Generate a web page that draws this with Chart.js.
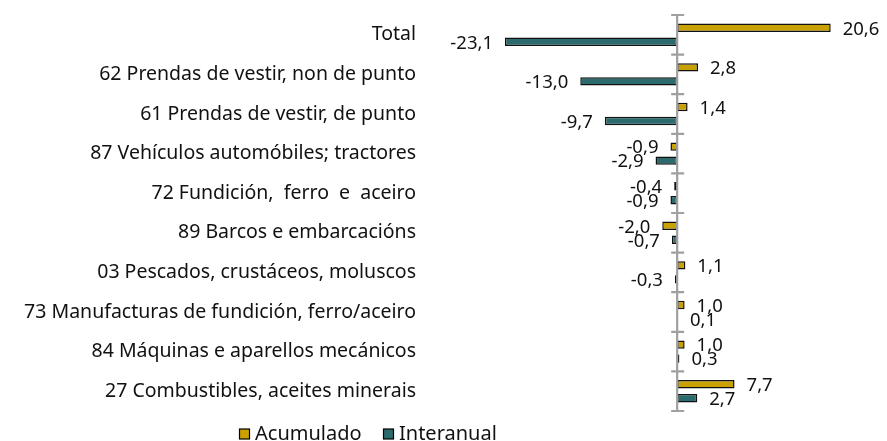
<!DOCTYPE html>
<html>
<head>
<meta charset="utf-8">
<script src="https://cdn.jsdelivr.net/npm/chart.js@4.4.0/dist/chart.umd.min.js"></script>
<style>
  html, body { margin: 0; padding: 0; background: #ffffff; }
  #wrap { position: relative; width: 887px; height: 441px; }
</style>
</head>
<body>
<div id="wrap"><canvas id="c" width="887" height="441"></canvas></div>
<script>
const categories = [
  "Total",
  "62 Prendas de vestir, non de punto",
  "61 Prendas de vestir, de punto",
  "87 Vehículos automóbiles; tractores",
  "72 Fundición,  ferro  e  aceiro",
  "89 Barcos e embarcacións",
  "03 Pescados, crustáceos, moluscos",
  "73 Manufacturas de fundición, ferro/aceiro",
  "84 Máquinas e aparellos mecánicos",
  "27 Combustibles, aceites minerais"
];
const acumulado = [20.6, 2.8, 1.4, -0.9, -0.4, -2.0, 1.1, 1.0, 1.0, 7.7];
const interanual = [-23.1, -13.0, -9.7, -2.9, -0.9, -0.7, -0.3, 0.1, 0.3, 2.7];
const seriesNames = ["Acumulado", "Interanual"];

const GOLD = "#C9A100";
const TEAL = "#2B6B6E";
const FONT = "'Noto Sans', 'Open Sans', sans-serif";

function fmt(v) {
  return v.toFixed(1).replace(".", ",");
}

const valueLabels = {
  id: "valueLabels",
  afterDatasetsDraw(chart) {
    const ctx = chart.ctx;
    ctx.save();
    ctx.font = "18.5px " + FONT;
    ctx.fillStyle = "#111";
    ctx.textBaseline = "middle";
    chart.data.datasets.forEach((ds, di) => {
      const meta = chart.getDatasetMeta(di);
      meta.data.forEach((el, i) => {
        const v = ds.data[i];
        if (v >= 0) {
          ctx.textAlign = "left";
          ctx.fillText(fmt(v), el.x + 12, el.y + 1.5);
        } else {
          ctx.textAlign = "right";
          ctx.fillText(fmt(v), el.x - 12, el.y + 1.5);
        }
      });
    });
    ctx.restore();
  }
};

const zeroAxis = {
  id: "zeroAxis",
  afterDatasetsDraw(chart) {
    const ctx = chart.ctx;
    const xs = chart.scales.x;
    const ca = chart.chartArea;
    const x0 = xs.getPixelForValue(0);
    const n = chart.data.labels.length;
    const step = (ca.bottom - ca.top) / n;
    ctx.save();
    ctx.strokeStyle = "#a0a0a0";
    ctx.lineWidth = 2.2;
    ctx.beginPath();
    ctx.moveTo(x0, ca.top);
    ctx.lineTo(x0, ca.bottom);
    for (let i = 0; i <= n; i++) {
      const y = ca.top + i * step;
      ctx.moveTo(x0 - 6, y);
      ctx.lineTo(x0 + 7, y);
    }
    ctx.stroke();
    ctx.restore();
  }
};

const customLegend = {
  id: "customLegend",
  afterDraw(chart) {
    const ctx = chart.ctx;
    ctx.save();
    ctx.font = "20px " + FONT;
    ctx.textBaseline = "middle";
    ctx.textAlign = "left";
    const starts = [239, 383];
    const yc = 434;
    chart.data.datasets.forEach((ds, i) => {
      const x = starts[i];
      ctx.fillStyle = ds.backgroundColor;
      ctx.fillRect(x + 0.5, yc - 5, 10, 10);
      ctx.strokeStyle = "#000";
      ctx.lineWidth = 1.2;
      ctx.strokeRect(x + 0.5, yc - 5, 10, 10);
      ctx.fillStyle = "#111";
      ctx.fillText(ds.label, x + 16, yc);
    });
    ctx.restore();
  }
};

new Chart(document.getElementById("c"), {
  type: "bar",
  data: {
    labels: categories,
    datasets: [
      {
        label: seriesNames[0],
        data: acumulado,
        backgroundColor: GOLD,
        borderColor: "#111",
        borderWidth: 1.5,
        borderSkipped: false,
        categoryPercentage: 0.707,
        barPercentage: 0.6
      },
      {
        label: seriesNames[1],
        data: interanual,
        backgroundColor: TEAL,
        borderColor: "#111",
        borderWidth: 1.5,
        borderSkipped: false,
        categoryPercentage: 0.707,
        barPercentage: 0.6
      }
    ]
  },
  options: {
    indexAxis: "y",
    responsive: false,
    animation: false,
    layout: { padding: { top: 15, bottom: 30, right: 25, left: 0 } },
    plugins: {
      legend: { display: false },
      tooltip: { enabled: false },
      title: { display: false }
    },
    scales: {
      x: {
        display: false,
        min: -33.7,
        max: 24.8
      },
      y: {
        grid: { display: false, drawTicks: false },
        border: { display: false },
        ticks: {
          color: "#111",
          font: { family: FONT, size: 19.5 },
          padding: 10
        },
        afterFit(scale) {
          scale.width = 426;
          scale.paddingTop = 0;
          scale.paddingBottom = 0;
        }
      }
    }
  },
  plugins: [zeroAxis, valueLabels, customLegend]
});
</script>
</body>
</html>
